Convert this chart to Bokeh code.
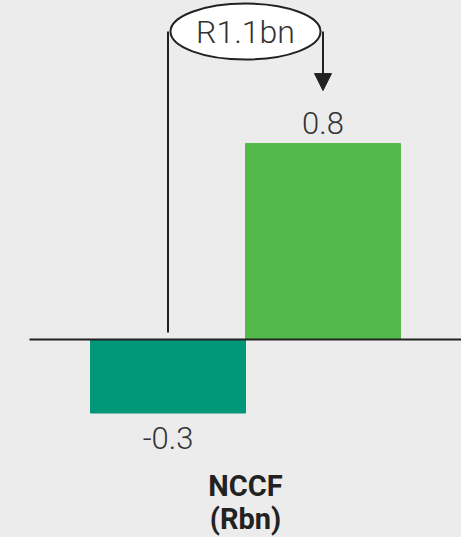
from bokeh.plotting import figure
from bokeh.models import ColumnDataSource, Arrow, NormalHead, Range1d
from bokeh.core.properties import value
from bokeh.embed import file_html
from bokeh.resources import INLINE

# ---- data ----
categories = ["A", "B"]
values = [-0.3, 0.8]
labels = ["-0.3", "0.8"]
colors = ["#009678", "#52b94a"]
total_label = "R1.1bn"
axis_title = ["NCCF", "(Rbn)"]

BG = "#ececec"
INK = "#222222"
FONT = "Roboto Light"
BOLD_FONT = "Roboto"

xs = list(range(len(categories)))

p = figure(width=461, height=537, output_backend="svg", toolbar_location=None,
           x_range=Range1d(-1.0806, 1.8935), y_range=Range1d(-0.8082, 1.3837),
           min_border=0, background_fill_color=BG, border_fill_color=BG,
           outline_line_color=None)
p.axis.visible = False
p.grid.visible = False

src = ColumnDataSource(dict(x=xs, top=values, color=colors, label=labels))
p.vbar(x="x", top="top", bottom=0, width=1.0, color="color", source=src)

# baseline
p.segment(x0=[-0.8935], y0=[0], x1=[1.8935], y1=[0], line_color=INK, line_width=2)

# value labels
pos = [i for i, v in enumerate(values) if v >= 0]
neg = [i for i, v in enumerate(values) if v < 0]
p.text(x=[xs[i] for i in pos], y=[values[i] for i in pos], text=[labels[i] for i in pos],
       y_offset=-10, text_align="center", text_baseline="bottom",
       text_font=value(FONT), text_font_size="31px", text_color="#333333")
p.text(x=[xs[i] for i in neg], y=[values[i] for i in neg], text=[labels[i] for i in neg],
       y_offset=14, text_align="center", text_baseline="top",
       text_font=value(FONT), text_font_size="31px", text_color="#333333")

# bracket annotation
top_y = 1.257
p.segment(x0=[xs[0]], y0=[0.029], x1=[xs[0]], y1=[top_y], line_color=INK, line_width=2)
p.add_layout(Arrow(end=NormalHead(size=17, fill_color=INK, line_color=INK),
                   x_start=xs[1], y_start=top_y, x_end=xs[1], y_end=1.016,
                   line_color=INK, line_width=2))
mid = (xs[0] + xs[1]) / 2
p.ellipse(x=[mid], y=[top_y], width=150, height=56, width_units="screen",
          height_units="screen", fill_color="white", line_color=INK, line_width=2)
p.text(x=[mid], y=[top_y], text=[total_label], text_align="center", text_baseline="middle",
       text_font=value(FONT), text_font_size="32px", text_color="#333333")

# category title
p.text(x=[mid, mid], y=[-0.596, -0.731], text=axis_title, text_align="center",
       text_baseline="middle", text_font=value(BOLD_FONT), text_font_size="29px",
       text_font_style="bold", text_color=INK)

html = file_html(p, INLINE)
html = html.replace("<head>", "<head><style>html,body{background:%s;}</style>" % BG, 1)
open("out.html", "w").write(html)
